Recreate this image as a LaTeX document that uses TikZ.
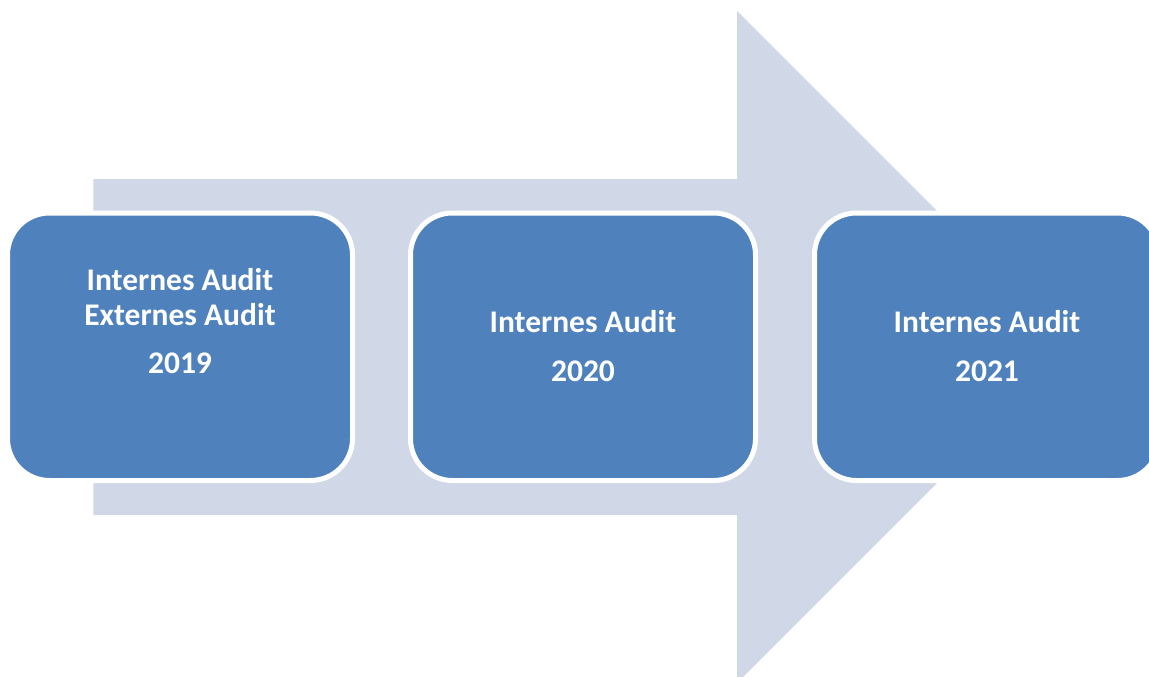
\documentclass[tikz,border=0pt]{standalone}
\usepackage{fontspec}
\setmainfont{Carlito}
\definecolor{arrowfill}{HTML}{D0D8E8}
\definecolor{boxfill}{HTML}{4F81BD}
\begin{document}
\begin{tikzpicture}[x=1pt,y=-1pt,
  stagebox/.style={draw=white, line width=5pt, fill=boxfill, rounded corners=42pt},
  stagetext/.style={text=white, font=\fontsize{31.5}{35}\selectfont\bfseries, align=center, inner sep=0pt}]
\useasboundingbox (0,0) rectangle (1149,677);
\begin{scope}
\clip (0,0) rectangle (1149,677);
% big arrow
\fill[arrowfill] (93.3,179) -- (737,179) -- (737,11) -- (1073,347) -- (737,683) -- (737,515) -- (93.3,515) -- cycle;
% boxes
\draw[stagebox] (7.5,213) rectangle (352.5,480.5);
\draw[stagebox] (410.5,213) rectangle (755.5,480.5);
\draw[stagebox] (814.5,213) rectangle (1159.5,480.5);
\end{scope}
% texts
\node[stagetext, anchor=base] (t1a) at (180,290) {Internes Audit};
\node[stagetext, anchor=base] (t1b) at (180,325) {Externes Audit};
\node[stagetext, anchor=base] (t1c) at (180,373) {2019};
\node[stagetext, anchor=base] (t2a) at (583,332) {Internes Audit};
\node[stagetext, anchor=base] (t2b) at (583,381) {2020};
\node[stagetext, anchor=base] (t3a) at (987,332) {Internes Audit};
\node[stagetext, anchor=base] (t3b) at (987,381) {2021};
\end{tikzpicture}
\end{document}
